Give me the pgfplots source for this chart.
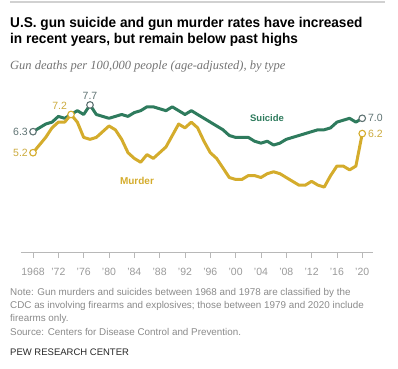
\documentclass[border=0pt]{standalone}
\usepackage{fontspec}
\setmainfont{Liberation Sans}
\newfontfamily\serifit{Liberation Serif}
\usepackage{pgfplots}
\pgfplotsset{compat=1.18}
\usepackage{graphicx}
\definecolor{sgreen}{HTML}{2E7B5D}
\definecolor{mgold}{HTML}{D4AC2C}
\definecolor{slate}{HTML}{5F7373}
\definecolor{goldlab}{HTML}{CBAA3D}
\definecolor{notegray}{HTML}{8A8A8A}
\definecolor{tickgray}{HTML}{9A9A9A}
\begin{document}
\begin{tikzpicture}[x=1pt,y=1pt]
\path[use as bounding box] (0,0) rectangle (398,368);
\draw[line width=1.2pt, draw=black!18] (10,366) -- (385,366);
\node[anchor=base west, inner sep=0] at (10,341) {\scalebox{0.96}[1]{\fontsize{14.2}{16}\selectfont\bfseries U.S. gun suicide and gun murder rates have increased}};
\node[anchor=base west, inner sep=0] at (10,325) {\scalebox{0.96}[1]{\fontsize{14.2}{16}\selectfont\bfseries in recent years, but remain below past highs}};
\node[anchor=base west, inner sep=0, text=black!55] at (10,299) {\fontsize{12.5}{14}\selectfont\serifit\itshape Gun deaths per 100,000 people (age-adjusted), by type};
\begin{axis}[
  at={(21pt,116pt)}, anchor=south west,
  scale only axis, width=352pt, height=152.8pt,
  xmin=1966.1, xmax=2021.7, ymin=0, ymax=8,
  axis x line*=bottom, hide y axis,
  axis line style={draw=black!28, line width=0.8pt, -},
  xtick={1968,1972,1976,1980,1984,1988,1992,1996,2000,2004,2008,2012,2016,2020},
  xticklabels={1968,’72,’76,’80,’84,’88,’92,’96,’00,’04,’08,’12,’16,’20},
  tick align=outside, major tick length=6pt,
  xtick style={draw=black!28, line width=0.6pt},
  xticklabel style={anchor=base, yshift=-17.5pt, text=tickgray, font=\fontsize{10.5}{12}\selectfont},
  /pgf/number format/assume math mode=true,
  clip=false,
]
\addplot[sgreen, line width=3pt, line join=round] coordinates {
(1968,6.3)(1969,6.5)(1970,6.7)(1971,6.8)(1972,7.1)(1973,7.0)(1974,7.2)(1975,7.4)(1976,7.2)(1977,7.7)
(1978,7.2)(1979,7.1)(1980,7.0)(1981,7.1)(1982,7.2)(1983,7.1)(1984,7.3)(1985,7.4)(1986,7.6)(1987,7.6)
(1988,7.5)(1989,7.4)(1990,7.6)(1991,7.4)(1992,7.2)(1993,7.4)(1994,7.2)(1995,7.0)(1996,6.8)(1997,6.6)
(1998,6.4)(1999,6.1)(2000,6.0)(2001,6.0)(2002,6.0)(2003,5.8)(2004,5.7)(2005,5.8)(2006,5.6)(2007,5.7)
(2008,5.9)(2009,6.0)(2010,6.1)(2011,6.2)(2012,6.3)(2013,6.4)(2014,6.4)(2015,6.5)(2016,6.8)(2017,6.9)
(2018,7.0)(2019,6.8)(2020,7.0)};
\addplot[mgold, line width=3pt, line join=round] coordinates {
(1968,5.2)(1969,5.6)(1970,6.0)(1971,6.5)(1972,6.8)(1973,6.8)(1974,7.2)(1975,6.8)(1976,6.0)(1977,5.9)
(1978,6.0)(1979,6.3)(1980,6.6)(1981,6.4)(1982,5.9)(1983,5.2)(1984,4.9)(1985,4.7)(1986,5.1)(1987,4.9)
(1988,5.2)(1989,5.5)(1990,6.1)(1991,6.7)(1992,6.5)(1993,6.8)(1994,6.5)(1995,5.8)(1996,5.2)(1997,4.9)
(1998,4.4)(1999,3.9)(2000,3.8)(2001,3.8)(2002,4.0)(2003,4.0)(2004,3.9)(2005,4.1)(2006,4.2)(2007,4.1)
(2008,3.9)(2009,3.7)(2010,3.5)(2011,3.5)(2012,3.7)(2013,3.5)(2014,3.4)(2015,4.0)(2016,4.5)(2017,4.5)
(2018,4.3)(2019,4.5)(2020,6.2)};
\addplot[only marks, mark=*, mark size=3.3pt, mark options={draw=slate, fill=white, line width=1.1pt}] coordinates {(1968,6.3)(1977,7.7)(2020,7.0)};
\addplot[only marks, mark=*, mark size=3.3pt, mark options={draw=mgold, fill=white, line width=1.1pt}] coordinates {(1968,5.2)(1974,7.2)(2020,6.2)};
\node[anchor=east, text=slate, font=\fontsize{10.5}{12}\selectfont, inner sep=0] at (axis cs:1967.2,6.3) {6.3};
\node[anchor=east, text=goldlab, font=\fontsize{10.5}{12}\selectfont, inner sep=0] at (axis cs:1967.2,5.2) {5.2};
\node[anchor=south, text=slate, font=\fontsize{10.5}{12}\selectfont, inner sep=0] at (axis cs:1977,7.95) {7.7};
\node[anchor=south, text=goldlab, font=\fontsize{10.5}{12}\selectfont, inner sep=0] at (axis cs:1972.2,7.45) {7.2};
\node[anchor=west, text=slate, font=\fontsize{10.5}{12}\selectfont, inner sep=0] at (axis cs:2020.9,7.0) {7.0};
\node[anchor=west, text=goldlab, font=\fontsize{10.5}{12}\selectfont, inner sep=0] at (axis cs:2020.9,6.2) {6.2};
\end{axis}
\node[text=sgreen, font=\fontsize{9.5}{11}\selectfont\bfseries, inner sep=0] at (267,250) {Suicide};
\node[text=mgold, font=\fontsize{10}{11}\selectfont\bfseries, inner sep=0] at (137,187) {Murder};
\begin{scope}[every node/.style={anchor=base west, inner sep=0, text=notegray, font=\fontsize{9.85}{11}\selectfont}]
\node at (10,73) {Note: Gun murders and suicides between 1968 and 1978 are classified by the};
\node at (10,59.7) {CDC as involving firearms and explosives; those between 1979 and 2020 include};
\node at (10,46.3) {firearms only.};
\node at (10,33) {Source: Centers for Disease Control and Prevention.};
\end{scope}
\node[anchor=base west, inner sep=0, text=black!85, font=\fontsize{9.5}{11}\selectfont] at (10,13) {PEW RESEARCH CENTER};
\end{tikzpicture}
\end{document}
